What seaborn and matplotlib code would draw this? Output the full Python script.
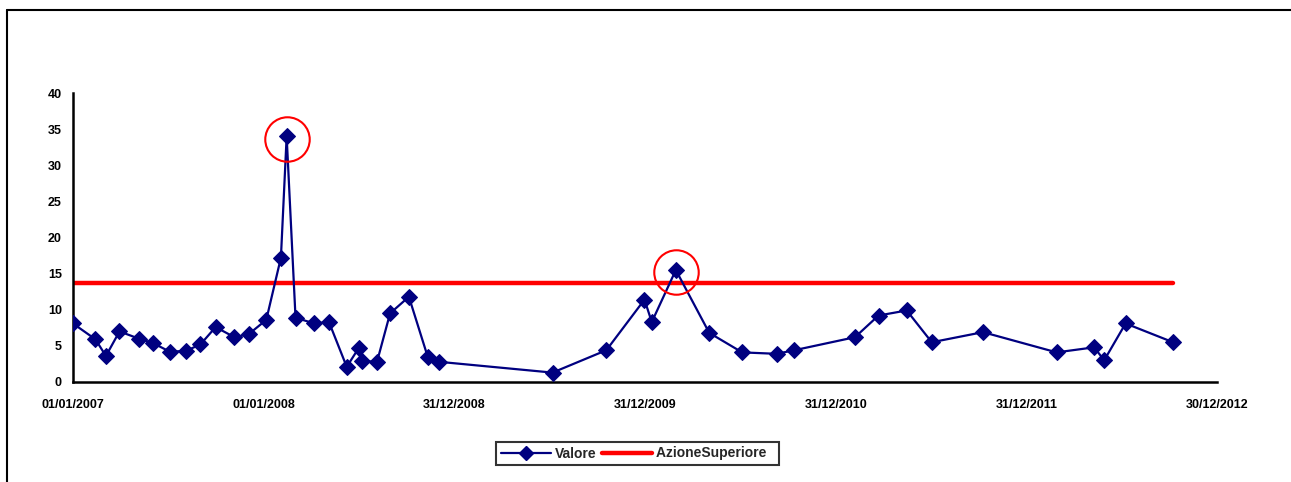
import matplotlib
matplotlib.use("Agg")
import matplotlib.pyplot as plt
import matplotlib.dates as mdates
from matplotlib.lines import Line2D
import seaborn as sns
import pandas as pd
import numpy as np

# ---- data ----
dates = ["2007-01-01", "2007-02-13", "2007-03-05", "2007-03-31", "2007-05-07", "2007-06-03",
         "2007-07-05", "2007-08-05", "2007-09-02", "2007-10-01", "2007-11-06", "2007-12-03",
         "2008-01-06", "2008-02-03", "2008-02-14", "2008-03-02", "2008-04-07", "2008-05-05",
         "2008-06-08", "2008-07-01", "2008-07-07", "2008-08-05", "2008-08-30", "2008-10-05",
         "2008-11-10", "2008-12-01", "2009-07-07", "2009-10-18", "2009-12-30", "2010-01-13",
         "2010-02-28", "2010-05-03", "2010-07-05", "2010-09-09", "2010-10-13", "2011-02-06",
         "2011-03-23", "2011-05-16", "2011-07-03", "2011-10-09", "2012-02-27", "2012-05-09",
         "2012-05-28", "2012-07-08", "2012-10-07"]
valore = [8.1, 5.9, 3.6, 7.0, 6.0, 5.4,
          4.2, 4.3, 5.2, 7.6, 6.2, 6.6,
          8.6, 17.2, 34.0, 8.9, 8.1, 8.3,
          2.1, 4.7, 2.9, 2.8, 9.5, 11.8,
          3.5, 2.8, 1.3, 4.4, 11.4, 8.3,
          15.5, 6.8, 4.1, 3.9, 4.4, 6.2,
          9.2, 9.9, 5.5, 6.9, 4.1, 4.8,
          3.0, 8.1, 5.5]
azione_superiore = 13.75
highlight_dates = ["2008-02-14", "2010-02-28"]
highlight_values = [34.0, 15.5]
tick_dates = ["2007-01-01", "2008-01-01", "2008-12-31", "2009-12-31",
              "2010-12-31", "2011-12-31", "2012-12-30"]
y_ticks = [0, 5, 10, 15, 20, 25, 30, 35, 40]

df = pd.DataFrame({"Data": pd.to_datetime(dates), "Valore": valore})
df_az = pd.DataFrame({"Data": pd.to_datetime([dates[0], dates[-1]]),
                      "AzioneSuperiore": [azione_superiore, azione_superiore]})
df_hl = pd.DataFrame({"Data": pd.to_datetime(highlight_dates), "Valore": highlight_values})

# ---- style ----
sns.set_style("white")
plt.rcParams["font.family"] = ["Liberation Sans", "DejaVu Sans"]
plt.rcParams["font.weight"] = "bold"

fig = plt.figure(figsize=(12.91, 4.82), dpi=100)
ax = fig.add_axes([73 / 1291, 100 / 482, (1217 - 73) / 1291, (382 - 93) / 482])

navy = "#000080"
sns.lineplot(data=df_az, x="Data", y="AzioneSuperiore", ax=ax, color="#ff0000",
             linewidth=3.2, solid_capstyle="round", legend=False, zorder=2)
sns.lineplot(data=df, x="Data", y="Valore", ax=ax, color=navy, linewidth=1.6,
             marker="D", markersize=8.5, markeredgecolor=navy, markerfacecolor=navy,
             legend=False, zorder=3)
ax.plot(df_hl["Data"], df_hl["Valore"] - 0.3, linestyle="none", marker="o", markersize=32,
        markerfacecolor="none", markeredgecolor="#ff0000", markeredgewidth=1.5, zorder=4)

ax.set_xlim(pd.Timestamp("2007-01-01"), pd.Timestamp("2012-12-30"))
ax.set_ylim(0, 40)
ax.set_xticks(pd.to_datetime(tick_dates))
ax.xaxis.set_major_formatter(mdates.DateFormatter("%d/%m/%Y"))
ax.set_yticks(y_ticks)
ax.set_xlabel("")
ax.set_ylabel("")

for s in ["top", "right"]:
    ax.spines[s].set_visible(False)
for s in ["left", "bottom"]:
    ax.spines[s].set_color("black")
    ax.spines[s].set_linewidth(1.8)
ax.tick_params(axis="both", direction="out", length=4, width=1.5, colors="black",
               labelsize=9, pad=4)
ax.tick_params(axis="x", pad=8)
for lbl in ax.get_xticklabels() + ax.get_yticklabels():
    lbl.set_fontweight("bold")
ax.grid(False)

# legend
handles = [Line2D([], [], color=navy, linewidth=1.6, marker="D", markersize=7.5,
                  markerfacecolor=navy, markeredgecolor=navy),
           Line2D([], [], color="#ff0000", linewidth=3.2, solid_capstyle="round")]
leg = fig.legend(handles, ["Valore", "AzioneSuperiore  "], loc="center",
                 bbox_to_anchor=(637.5 / 1291, 1 - 453.5 / 482), ncol=2,
                 frameon=True, fancybox=False, handlelength=3.6, handletextpad=0.25,
                 columnspacing=0.45, borderpad=0.35, prop={"weight": "bold", "size": 10})
leg.get_frame().set_edgecolor("black")
leg.get_frame().set_linewidth(1.5)

# outer chart frame (left and top edges visible)
fig.add_artist(Line2D([7 / 1291, 7 / 1291], [0, 1 - 10 / 482], color="black", linewidth=1.5,
                      transform=fig.transFigure))
fig.add_artist(Line2D([7 / 1291, 1], [1 - 10 / 482, 1 - 10 / 482], color="black", linewidth=1.5,
                      transform=fig.transFigure))

fig.savefig("out.png", dpi=100)
